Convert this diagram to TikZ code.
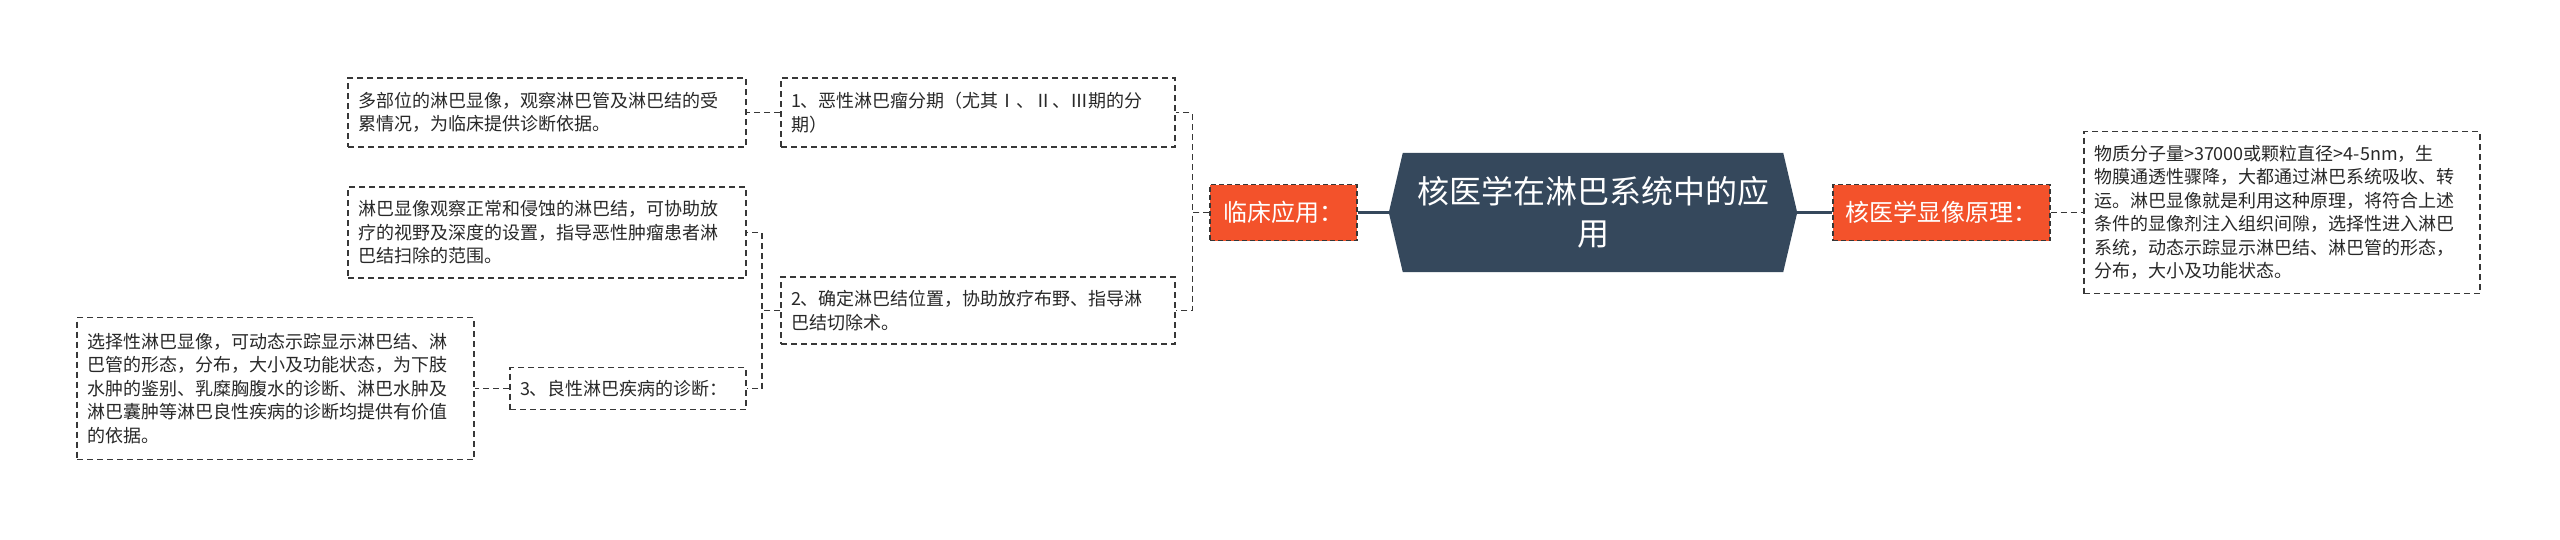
\documentclass[tikz,border=0pt]{standalone}
\usepackage{fontspec}
\setmainfont{Noto Sans CJK SC}
\usetikzlibrary{backgrounds}
\definecolor{hexcol}{RGB}{53,72,92}
\definecolor{orangecol}{RGB}{243,82,43}
\definecolor{txtcol}{RGB}{40,40,40}
\definecolor{dashcol}{RGB}{55,55,55}
\tikzset{
  dline/.style={draw=dashcol, line width=1.7pt, dash pattern=on 6pt off 4pt},
  solidline/.style={draw=hexcol, line width=2.5pt},
  leafbox/.style={dline, fill=white, text=txtcol, font=\fontsize{18pt}{23.5pt}\selectfont,
    align=left, inner xsep=10pt, inner ysep=0pt, anchor=center},
  orangebox/.style={draw=dashcol, line width=1.3pt, dash pattern=on 5pt off 3pt, fill=orangecol,
    text=white, font=\fontsize{24pt}{30pt}\selectfont, inner sep=0pt, minimum height=56pt, anchor=center},
  centerbox/.style={text=white, font=\fontsize{32pt}{42pt}\selectfont, align=center, inner sep=0pt,
    minimum width=408pt, minimum height=119pt, anchor=center}
}
\begin{document}
\begin{tikzpicture}[x=1pt,y=-1pt]
\useasboundingbox (0,0) rectangle (2560,539);
\begin{scope}[on background layer]
  \fill[white] (0,0) rectangle (2560,539);
\end{scope}

% central node
\node[centerbox] (c) at (1593,212.5) {核医学在淋巴系统中的应\\用};
\begin{scope}[on background layer]
  \fill[hexcol] (c.west) -- ([xshift=14pt]c.north west) -- ([xshift=-14pt]c.north east) -- (c.east)
    -- ([xshift=-14pt]c.south east) -- ([xshift=14pt]c.south west) -- cycle;
\end{scope}

% main branches
\node[orangebox, minimum width=147pt] (L) at (1283.5,212.5) {临床应用：};
\node[orangebox, minimum width=217pt] (R) at (1941.5,212.5) {核医学显像原理：};

% right leaf
\node[leafbox, text width=376pt, minimum height=162pt] (RB) at (2282,212.5)
  {物质分子量>37000或颗粒直径>4-5nm，生\\物膜通透性骤降，大都通过淋巴系统吸收、转\\运。淋巴显像就是利用这种原理，将符合上述\\条件的显像剂注入组织间隙，选择性进入淋巴\\系统，动态示踪显示淋巴结、淋巴管的形态，\\分布，大小及功能状态。};

% left sub-branches
\node[leafbox, text width=374pt, minimum height=69pt] (B1) at (978,112.5)
  {1、恶性淋巴瘤分期（尤其Ⅰ、Ⅱ、Ⅲ期的分\\期）};
\node[leafbox, text width=374pt, minimum height=67pt] (B2) at (978,310.5)
  {2、确定淋巴结位置，协助放疗布野、指导淋\\巴结切除术。};
\node[leafbox, text width=216pt, minimum height=42pt] (B3) at (628,388.5)
  {3、良性淋巴疾病的诊断：};

% leaves
\node[leafbox, text width=378pt, minimum height=69pt] (A) at (547,112.5)
  {多部位的淋巴显像，观察淋巴管及淋巴结的受\\累情况，为临床提供诊断依据。};
\node[leafbox, text width=378pt, minimum height=91pt] (C) at (547,232.5)
  {淋巴显像观察正常和侵蚀的淋巴结，可协助放\\疗的视野及深度的设置，指导恶性肿瘤患者淋\\巴结扫除的范围。};
\node[leafbox, text width=377pt, minimum height=142pt] (D) at (275.5,388.5)
  {选择性淋巴显像，可动态示踪显示淋巴结、淋\\巴管的形态，分布，大小及功能状态，为下肢\\水肿的鉴别、乳糜胸腹水的诊断、淋巴水肿及\\淋巴囊肿等淋巴良性疾病的诊断均提供有价值\\的依据。};

% connectors
\draw[solidline] (c.west) -- (L.east);
\draw[solidline] (c.east) -- (R.west);
\draw[dline] (R.east) -- (RB.west);
\draw[dline] (L.west) -- ++(-17,0) |- (B1.east);
\draw[dline] (L.west) -- ++(-17,0) |- (B2.east);
\draw[dline] (B1.west) -- (A.east);
\draw[dline] (B2.west) -- ++(-18,0) |- (C.east);
\draw[dline] (B2.west) -- ++(-18,0) |- (B3.east);
\draw[dline] (B3.west) -- (D.east);
\end{tikzpicture}
\end{document}
